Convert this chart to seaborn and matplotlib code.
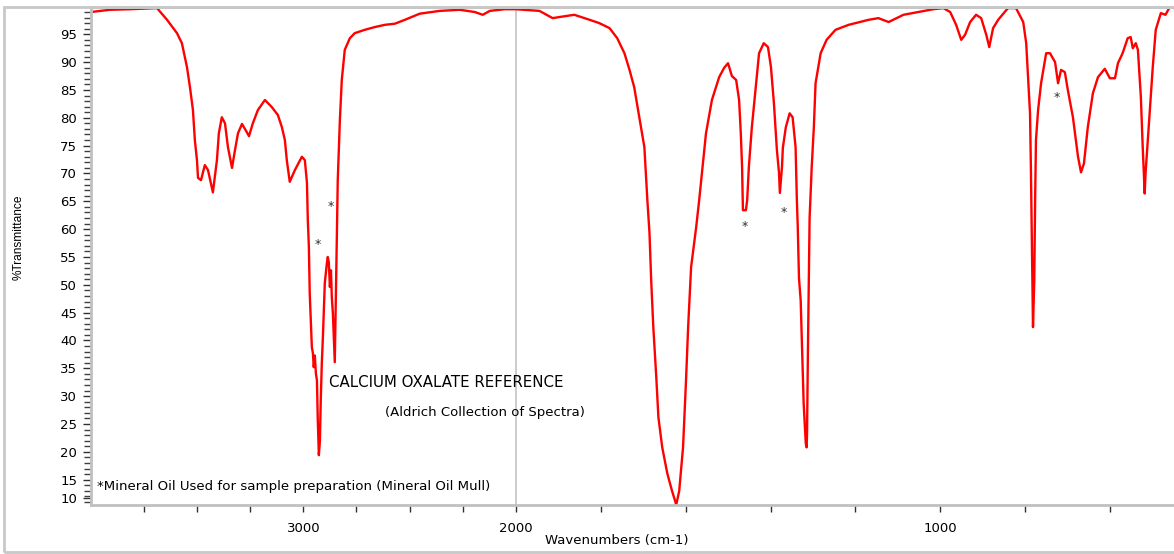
import numpy as np
import pandas as pd
import matplotlib
matplotlib.use("Agg")
import matplotlib.pyplot as plt
import seaborn as sns
from matplotlib.patches import Rectangle
from matplotlib.ticker import FixedLocator, FixedFormatter, MultipleLocator

# --- spectrum (wavenumber cm-1, %T) ---
wavenumber = [
    4000, 3911, 3816, 3689, 3642, 3595, 3572, 3548, 3534, 3520, 3511, 3501, 3496, 3482,
    3464, 3449, 3426, 3407, 3398, 3384, 3369, 3355, 3336, 3322, 3308, 3289, 3266, 3256,
    3238, 3214, 3181, 3148, 3120, 3101, 3087, 3078, 3064, 3040, 3007, 2993, 2983, 2979,
    2974, 2970, 2960, 2955, 2951, 2946, 2941, 2936, 2932, 2927, 2922, 2918, 2913, 2908,
    2899, 2889, 2885, 2880, 2875, 2870, 2866, 2861, 2856, 2852, 2847, 2842, 2838, 2828,
    2819, 2805, 2781, 2758, 2711, 2663, 2616, 2569, 2522, 2452, 2358, 2263, 2193, 2155,
    2122, 2052, 2000, 1944, 1913, 1897, 1862, 1826, 1803, 1779, 1761, 1744, 1732, 1721,
    1709, 1697, 1690, 1685, 1681, 1676, 1669, 1664, 1655, 1643, 1632, 1622, 1615, 1606,
    1599, 1594, 1587, 1575, 1568, 1552, 1538, 1521, 1509, 1500, 1491, 1481, 1474, 1470,
    1467, 1465, 1458, 1455, 1451, 1444, 1434, 1427, 1416, 1406, 1399, 1392, 1385, 1380,
    1378, 1373, 1371, 1364, 1355, 1348, 1341, 1338, 1336, 1333, 1329, 1326, 1324, 1322,
    1317, 1315, 1314, 1312, 1310, 1308, 1303, 1298, 1294, 1282, 1268, 1247, 1216, 1169,
    1146, 1122, 1087, 1052, 1017, 993, 977, 963, 951, 942, 930, 916, 904, 892,
    885, 876, 864, 841, 822, 805, 798, 793, 789, 787, 784, 782, 779, 777,
    775, 770, 763, 751, 742, 730, 723, 716, 707, 700, 688, 676, 669, 662,
    653, 641, 629, 613, 601, 589, 582, 571, 559, 552, 547, 540, 535, 528,
    524, 519, 517, 507, 500, 493, 481, 470, 460, 450,
]
transmittance = [
    99.0, 99.4, 99.5, 99.7, 97.6, 95.2, 93.4, 89.1, 85.5, 81.4, 76.0, 72.4, 69.2, 68.8,
    71.5, 70.6, 66.6, 72.4, 77.2, 80.1, 79.0, 74.7, 71.0, 74.2, 77.2, 78.9, 77.4, 76.7,
    79.0, 81.4, 83.2, 81.9, 80.5, 78.3, 76.0, 72.4, 68.5, 70.6, 73.0, 72.4, 68.3, 61.6,
    56.8, 48.5, 38.8, 37.7, 35.2, 37.3, 34.1, 32.8, 25.6, 19.4, 22.0, 29.3, 36.0, 40.6,
    50.3, 54.0, 55.0, 54.0, 49.6, 52.6, 47.8, 44.9, 40.1, 36.1, 47.3, 59.3, 68.8, 79.6,
    86.8, 92.2, 94.3, 95.2, 95.8, 96.3, 96.7, 96.9, 97.6, 98.7, 99.2, 99.4, 99.0, 98.5,
    99.2, 99.5, 99.5, 99.2, 97.9, 98.1, 98.5, 97.6, 97.0, 96.1, 94.3, 91.6, 88.6, 85.5,
    80.1, 74.7, 65.2, 59.3, 50.8, 42.4, 33.4, 26.2, 20.8, 16.1, 13.0, 10.5, 13.0, 20.8,
    32.8, 42.4, 53.2, 60.4, 65.2, 77.2, 83.2, 87.3, 89.0, 89.8, 87.5, 86.8, 83.2, 77.2,
    71.2, 63.4, 63.4, 65.2, 71.2, 78.3, 86.2, 91.6, 93.4, 92.7, 89.1, 82.6, 74.2, 70.1,
    66.5, 71.2, 74.6, 78.3, 80.8, 80.1, 74.7, 65.2, 60.7, 51.2, 47.2, 39.5, 34.3, 28.7,
    21.5, 20.8, 23.3, 37.9, 49.4, 62.0, 71.2, 78.3, 86.2, 91.6, 94.0, 95.8, 96.7, 97.6,
    97.9, 97.2, 98.5, 99.0, 99.5, 99.7, 99.0, 96.7, 94.0, 94.9, 97.2, 98.5, 97.9, 94.9,
    92.7, 96.1, 97.6, 99.7, 99.7, 97.2, 93.4, 86.2, 80.8, 71.2, 54.4, 42.4, 50.8, 65.2,
    76.0, 81.4, 86.2, 91.6, 91.6, 90.0, 86.2, 88.6, 88.2, 85.0, 80.1, 73.0, 70.2, 71.8,
    78.3, 84.4, 87.3, 88.8, 87.1, 87.1, 89.8, 91.6, 94.3, 94.5, 92.5, 93.4, 92.2, 83.7,
    75.4, 66.4, 70.0, 81.4, 89.1, 95.8, 98.8, 98.5, 99.9, 99.7,
]

# mineral oil bands marked with an asterisk
star_wn = [2871, 2932, 1460, 1369, 726]
star_t = [64.0, 57.3, 60.4, 62.9, 83.7]

x_ticks = [3750, 3500, 3250, 3000, 2750, 2500, 2250, 2000, 1800, 1600, 1400, 1200, 1000, 800, 600]
x_labels = ["", "", "", "3000", "", "", "", "2000", "", "", "", "", "1000", "", ""]
y_ticks = [11.7, 15, 20, 25, 30, 35, 40, 45, 50, 55, 60, 65, 70, 75, 80, 85, 90, 95]
y_labels = ["10", "15", "20", "25", "30", "35", "40", "45", "50", "55", "60", "65",
            "70", "75", "80", "85", "90", "95"]

df = pd.DataFrame({"wn": wavenumber, "T": transmittance})

sns.set_style("white")
plt.rcParams["font.family"] = ["DejaVu Sans"]
plt.rcParams["text.color"] = "black"
plt.rcParams["axes.labelcolor"] = "black"
plt.rcParams["xtick.labelcolor"] = "black"
plt.rcParams["ytick.labelcolor"] = "black"


# region above 2000 cm-1 is drawn at half scale
def fwd(w):
    w = np.asarray(w, dtype=float)
    return np.where(w >= 2000, 2000 + (w - 2000) / 2.0, w)


def inv(u):
    u = np.asarray(u, dtype=float)
    return np.where(u >= 2000, 2000 + (u - 2000) * 2.0, u)


fig = plt.figure(figsize=(11.74, 5.54), dpi=100)
ax = fig.add_axes([91 / 1174, 1 - 505 / 554, 1 - 91 / 1174, (505 - 7) / 554])

sns.lineplot(data=df, x="wn", y="T", ax=ax, color="#ff0000", linewidth=1.7,
             sort=False, estimator=None)

ax.set_xscale("function", functions=(fwd, inv))
ax.set_xlim(4000, 450)
ax.set_ylim(10.45, 99.9)

ax.axvline(2000, color="#c4c4c4", linewidth=1.2, zorder=0)

ax.xaxis.set_major_locator(FixedLocator(x_ticks))
ax.xaxis.set_major_formatter(FixedFormatter(x_labels))
ax.xaxis.set_minor_locator(FixedLocator([]))
ax.yaxis.set_major_locator(FixedLocator(y_ticks))
ax.yaxis.set_major_formatter(FixedFormatter(y_labels))
ax.yaxis.set_minor_locator(MultipleLocator(1))

ax.tick_params(axis="x", which="major", direction="out", length=5, width=1,
               color="#303030", labelsize=9.5, pad=7, bottom=True)
ax.tick_params(axis="y", which="major", direction="out", length=6, width=1,
               color="#303030", labelsize=9.5, pad=4, left=True)
ax.tick_params(axis="y", which="minor", direction="out", length=5, width=1,
               color="#404040", left=True)

for side in ["left", "bottom", "top"]:
    ax.spines[side].set_color("#c0c0c0")
    ax.spines[side].set_linewidth(2)
ax.spines["right"].set_visible(False)

ax.set_xlabel("Wavenumbers (cm-1)", fontsize=9.5, va="center")
ax.xaxis.set_label_coords(0.485, -0.072)
ax.set_ylabel("%Transmittance", fontsize=8.6, family=["Liberation Sans", "DejaVu Sans"],
              va="center", ha="center")
ax.yaxis.set_label_coords(-0.067, 0.538)

for w, t in zip(star_wn, star_t):
    ax.text(w, t, "*", fontsize=9, color="#303030", ha="center", va="center")

ax.text(2880, 32.5, "CALCIUM OXALATE REFERENCE", fontsize=10.8, ha="left", va="center")
ax.text(2616, 27.1, "(Aldrich Collection of Spectra)", fontsize=9.5, ha="left", va="center")
ax.text(3972, 13.8, "*Mineral Oil Used for sample preparation (Mineral Oil Mull)",
        fontsize=9.6, ha="left", va="center")

# light frame around the whole picture
fig.patches.append(Rectangle((4 / 1174, 1 - 552 / 554), 1.1, (552 - 7) / 554,
                             transform=fig.transFigure, fill=False,
                             edgecolor="#c8c8c8", linewidth=2))

fig.savefig("out.png", dpi=100)
